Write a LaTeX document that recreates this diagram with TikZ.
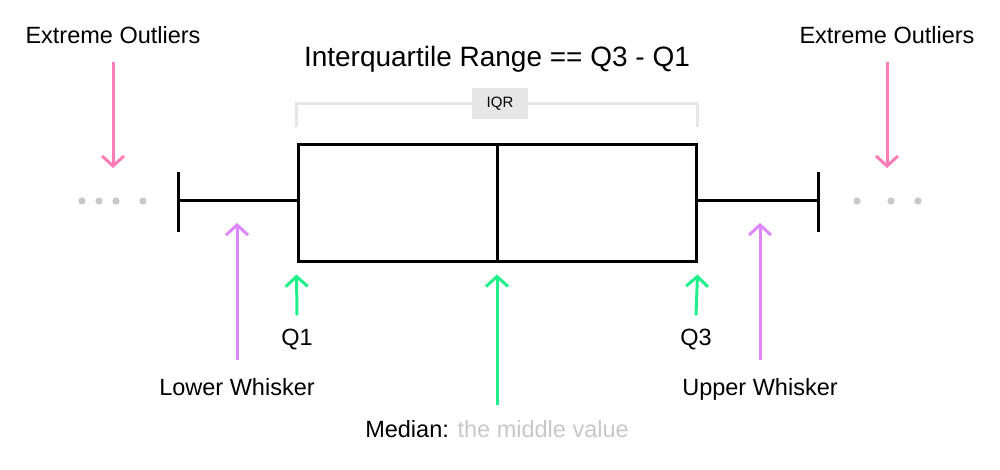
\documentclass[tikz,border=0pt]{standalone}
\usepackage{fontspec}
\setmainfont{Liberation Sans}
\usetikzlibrary{arrows.meta, positioning}

\definecolor{pinkarr}{RGB}{255,125,182}
\definecolor{purparr}{RGB}{221,134,255}
\definecolor{greenarr}{RGB}{32,240,140}
\definecolor{dotgray}{RGB}{200,200,200}
\definecolor{brkgray}{RGB}{230,230,230}

\tikzset{
  lbl/.style = {inner sep=0pt, anchor=base, font=\fontsize{23.5}{28}\selectfont},
  bx/.style = {line width=3pt},
  arr/.style = {line width=3pt, -{Straight Barb[length=10pt, width=22pt, line width=3pt]}},
}

\begin{document}
\begin{tikzpicture} [x=1pt, y=-1pt]

\useasboundingbox (0,0) rectangle (1000,470);

\node (box) [draw, bx, minimum width=398pt, minimum height=116pt, inner sep=0pt] at (497,203) {};
\draw [bx] (box.north) -- (box.south);

% whiskers
\coordinate (wl) at (178,201);
\coordinate (wr) at (818,201);
\draw [bx] (box.west |- wl) -- (wl);
\draw [bx] (box.east |- wr) -- (wr);
\draw [bx] ([yshift=29pt]wl) -- ([yshift=-31pt]wl);
\draw [bx] ([yshift=29pt]wr) -- ([yshift=-31pt]wr);

% outliers
\foreach \x in {82,99,116,143}
  \fill [dotgray] (\x,201) circle (3.6pt);
\foreach \x in {857,891,918}
  \fill [dotgray] (\x,201) circle (3.6pt);

% IQR
\node (iqr) [fill=brkgray, minimum width=56pt, minimum height=31pt, inner sep=0pt,
  font=\fontsize{15}{17}\selectfont] at (500,103.5) {IQR};
\draw [brkgray, line width=3pt] ([yshift=16pt]box.north west) |- (iqr.west);
\draw [brkgray, line width=3pt] ([yshift=16pt]box.north east) |- (iqr.east);

\node (title) [lbl, font=\fontsize{28}{32}\selectfont] at (497,67) {Interquartile Range == Q3 - Q1};

\node (extl) [lbl] at (113,44) {Extreme Outliers};
\node (extr) [lbl] at (887,44) {Extreme Outliers};
\coordinate (ol) at (113,168);
\coordinate (or) at (887,168);
\draw [arr, pinkarr] ([yshift=-18pt]extl.south) -- (ol);
\draw [arr, pinkarr] ([yshift=-18pt]extr.south) -- (or);

\node (lw) [lbl] at (237,395) {Lower Whisker};
\node (uw) [lbl] at (760,395) {Upper Whisker};
\draw [arr, purparr] ([yshift=18pt]lw.north) -- ([yshift=-22pt]lw.north |- wl);
\draw [arr, purparr] ([yshift=18pt]uw.north) -- ([yshift=-22pt]uw.north |- wr);

\node (q1) [lbl] at (297,345) {Q1};
\node (q3) [lbl] at (696,345) {Q3};
\node (med) [lbl] at (497,437) {Median: \textcolor{dotgray}{the middle value}};
\draw [arr, greenarr] ([yshift=13pt]q1.north) -- ([yshift=-12pt]box.south west);
\draw [arr, greenarr] ([yshift=13pt]q3.north) -- ([yshift=-12pt]box.south east);
\draw [arr, greenarr] ([yshift=15pt]med.north -| box.south) -- ([yshift=-12pt]box.south);
\end{tikzpicture}
\end{document}
